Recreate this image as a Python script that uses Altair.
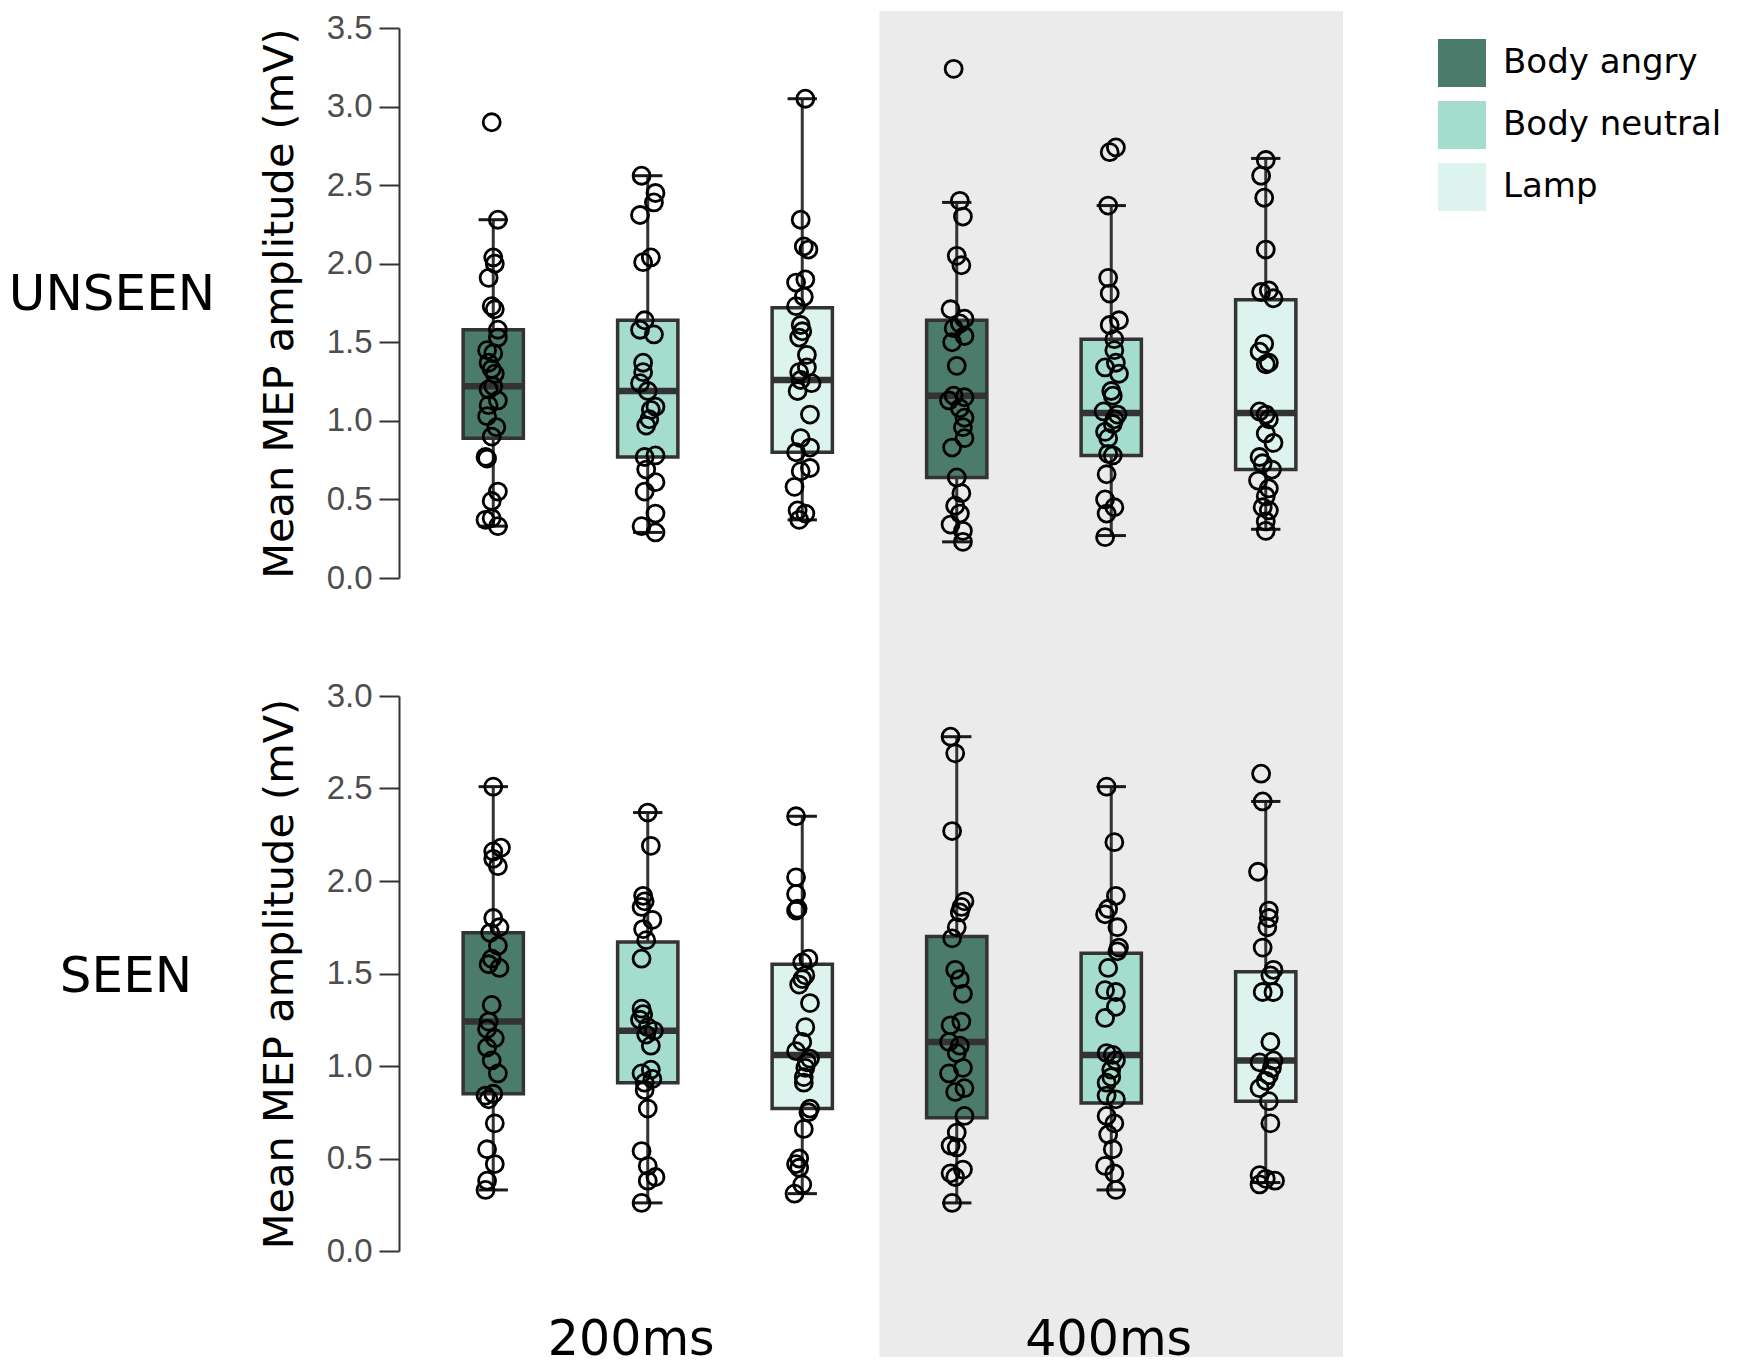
import altair as alt
import pandas as pd

# ---------------- data ----------------
conditions = ["Body angry", "Body neutral", "Lamp"]
times = ["200ms", "400ms"]
panels = ["UNSEEN", "SEEN"]
colors = ["#4b7b6b", "#a4ddce", "#ddf3ee"]

# groups ordered: 200ms (angry, neutral, lamp), 400ms (angry, neutral, lamp)
unseen_q1 = [0.89, 0.77, 0.80, 0.64, 0.78, 0.69]
unseen_med = [1.22, 1.19, 1.26, 1.16, 1.05, 1.05]
unseen_q3 = [1.58, 1.64, 1.72, 1.64, 1.52, 1.77]
unseen_wlo = [0.33, 0.29, 0.37, 0.23, 0.27, 0.31]
unseen_whi = [2.28, 2.56, 3.05, 2.39, 2.37, 2.67]

seen_q1 = [0.85, 0.91, 0.77, 0.72, 0.80, 0.81]
seen_med = [1.24, 1.19, 1.06, 1.13, 1.06, 1.03]
seen_q3 = [1.72, 1.67, 1.55, 1.70, 1.61, 1.51]
seen_wlo = [0.33, 0.26, 0.31, 0.26, 0.33, 0.37]
seen_whi = [2.51, 2.37, 2.35, 2.78, 2.51, 2.43]

# individual participants (values) and their horizontal jitter (fraction of slot)
u_200_angry = [2.90, 2.28, 2.04, 2.00, 1.91, 1.73, 1.71, 1.58, 1.53, 1.45, 1.43, 1.37, 1.33, 1.30,
               1.22, 1.20, 1.13, 1.10, 1.03, 0.96, 0.90, 0.77, 0.76, 0.55, 0.49, 0.38, 0.37, 0.33]
u_200_angry_j = [-0.01, 0.03, 0.00, 0.01, -0.03, -0.01, 0.01, 0.03, 0.03, -0.04, 0.00, -0.03, -0.01, 0.01,
                 0.00, -0.03, 0.03, -0.03, -0.04, 0.02, -0.01, -0.05, -0.04, 0.03, -0.01, -0.01, -0.05, 0.03]
u_200_neutral = [2.56, 2.45, 2.39, 2.31, 2.04, 2.01, 1.64, 1.58, 1.55, 1.37, 1.31, 1.24, 1.19, 1.09,
                 1.07, 1.01, 0.97, 0.78, 0.77, 0.69, 0.61, 0.55, 0.41, 0.33, 0.29]
u_200_neutral_j = [-0.04, 0.05, 0.04, -0.05, 0.02, -0.03, -0.02, -0.05, 0.04, -0.03, -0.03, -0.05, 0.00, 0.05,
                   0.02, 0.01, -0.01, 0.05, -0.02, -0.01, 0.05, -0.02, 0.05, -0.04, 0.05]
u_200_lamp = [3.05, 2.28, 2.11, 2.09, 1.90, 1.88, 1.79, 1.73, 1.61, 1.57, 1.53, 1.42, 1.34, 1.31,
              1.26, 1.24, 1.19, 1.04, 0.89, 0.83, 0.80, 0.70, 0.68, 0.58, 0.43, 0.41, 0.37]
u_200_lamp_j = [0.02, -0.01, 0.01, 0.04, 0.02, -0.04, 0.01, -0.04, -0.01, 0.00, -0.02, 0.03, 0.03, -0.02,
                -0.01, 0.06, -0.03, 0.05, -0.01, 0.05, -0.04, 0.05, -0.01, -0.05, -0.03, 0.02, -0.02]
u_400_angry = [3.24, 2.40, 2.30, 2.05, 1.99, 1.71, 1.65, 1.62, 1.59, 1.54, 1.50, 1.35, 1.16, 1.15,
               1.13, 1.08, 1.02, 0.96, 0.89, 0.83, 0.64, 0.54, 0.46, 0.41, 0.34, 0.30, 0.23]
u_400_angry_j = [-0.02, 0.02, 0.04, 0.00, 0.03, -0.04, 0.05, 0.02, -0.02, 0.05, -0.03, 0.00, -0.02, 0.05,
                 -0.05, 0.02, 0.05, 0.04, 0.05, -0.03, 0.00, 0.03, -0.01, 0.02, -0.04, 0.04, 0.04]
u_400_neutral = [2.74, 2.71, 2.37, 1.91, 1.81, 1.64, 1.61, 1.52, 1.45, 1.37, 1.34, 1.30, 1.19, 1.16,
                 1.06, 1.04, 1.01, 0.98, 0.93, 0.89, 0.79, 0.78, 0.66, 0.50, 0.45, 0.41, 0.26]
u_400_neutral_j = [0.03, -0.01, -0.02, -0.02, -0.01, 0.05, -0.01, 0.02, 0.02, 0.03, -0.04, 0.05, 0.00, 0.01,
                   -0.05, 0.04, 0.02, 0.01, -0.04, -0.02, -0.02, 0.01, -0.03, -0.04, 0.02, -0.03, -0.04]
u_400_lamp = [2.66, 2.56, 2.42, 2.09, 1.83, 1.82, 1.78, 1.49, 1.44, 1.37, 1.36, 1.06, 1.04, 1.01,
              0.92, 0.86, 0.77, 0.73, 0.69, 0.62, 0.57, 0.52, 0.45, 0.43, 0.36, 0.30]
u_400_lamp_j = [0.00, -0.03, -0.01, 0.00, 0.02, -0.03, 0.05, -0.01, -0.04, 0.02, 0.00, -0.04, 0.00, 0.02,
                0.00, 0.05, -0.04, -0.02, 0.04, -0.05, 0.02, 0.00, -0.02, 0.02, 0.00, 0.00]

s_200_angry = [2.51, 2.18, 2.16, 2.12, 2.08, 1.80, 1.75, 1.72, 1.65, 1.58, 1.55, 1.53, 1.33, 1.24,
               1.20, 1.15, 1.10, 1.03, 0.96, 0.85, 0.84, 0.82, 0.69, 0.55, 0.47, 0.38, 0.33]
s_200_angry_j = [0.00, 0.05, 0.00, 0.00, 0.03, 0.00, 0.04, -0.02, 0.03, -0.01, -0.03, 0.04, -0.01, -0.03,
                 -0.04, 0.01, -0.04, -0.01, 0.03, 0.00, -0.05, -0.03, 0.01, -0.04, 0.01, -0.04, -0.05]
s_200_neutral = [2.37, 2.19, 1.92, 1.89, 1.86, 1.79, 1.74, 1.68, 1.58, 1.31, 1.28, 1.25, 1.21, 1.19,
                 1.17, 1.11, 0.98, 0.96, 0.93, 0.91, 0.87, 0.77, 0.54, 0.46, 0.40, 0.38, 0.26]
s_200_neutral_j = [0.00, 0.02, -0.03, -0.02, -0.04, 0.03, -0.03, -0.01, -0.04, -0.04, -0.03, -0.05, 0.00, 0.04,
                   -0.01, 0.02, 0.02, -0.04, 0.03, -0.02, -0.02, 0.00, -0.04, 0.00, 0.05, 0.00, -0.04]
s_200_lamp = [2.35, 2.02, 1.93, 1.85, 1.84, 1.58, 1.56, 1.49, 1.47, 1.44, 1.34, 1.21, 1.13, 1.08,
              1.04, 1.02, 0.99, 0.94, 0.91, 0.77, 0.75, 0.66, 0.50, 0.47, 0.45, 0.36, 0.31]
s_200_lamp_j = [-0.04, -0.04, -0.04, -0.03, -0.04, 0.04, 0.00, 0.02, 0.00, -0.02, 0.05, 0.02, 0.00, -0.04,
                0.05, 0.03, 0.02, 0.01, 0.01, 0.05, 0.04, 0.01, -0.02, -0.04, -0.02, 0.00, -0.05]
s_400_angry = [2.78, 2.69, 2.27, 1.89, 1.86, 1.83, 1.75, 1.69, 1.52, 1.47, 1.39, 1.24, 1.22, 1.13,
               1.11, 1.07, 0.99, 0.96, 0.88, 0.86, 0.73, 0.64, 0.57, 0.56, 0.44, 0.42, 0.40, 0.26]
s_400_angry_j = [-0.04, -0.01, -0.03, 0.05, 0.03, 0.02, 0.00, -0.03, -0.01, 0.02, 0.04, 0.03, -0.04, -0.05,
                 0.02, 0.00, 0.04, -0.05, 0.05, -0.01, 0.05, 0.00, -0.04, 0.00, 0.04, -0.04, -0.01, -0.03]
s_400_neutral = [2.51, 2.21, 1.92, 1.85, 1.82, 1.75, 1.64, 1.62, 1.53, 1.41, 1.40, 1.32, 1.26, 1.07,
                 1.06, 1.03, 0.98, 0.94, 0.91, 0.84, 0.82, 0.73, 0.69, 0.63, 0.55, 0.46, 0.42, 0.33]
s_400_neutral_j = [-0.03, 0.02, 0.03, -0.02, -0.04, 0.04, 0.05, 0.04, -0.02, -0.04, 0.03, 0.03, -0.04, -0.03,
                   0.01, 0.03, 0.00, 0.00, -0.03, -0.03, 0.03, -0.03, 0.02, -0.02, 0.01, -0.04, 0.02, 0.03]
s_400_lamp = [2.58, 2.43, 2.05, 1.84, 1.80, 1.75, 1.64, 1.52, 1.49, 1.40, 1.40, 1.13, 1.02, 1.03,
              0.99, 0.95, 0.92, 0.88, 0.81, 0.69, 0.41, 0.39, 0.38, 0.36]
s_400_lamp_j = [-0.03, -0.02, -0.05, 0.02, 0.02, 0.01, -0.02, 0.05, 0.03, -0.02, 0.05, 0.03, -0.04, 0.05,
                0.04, 0.02, 0.00, -0.04, 0.02, 0.03, -0.04, 0.00, 0.06, -0.04]

unseen_points = [u_200_angry, u_200_neutral, u_200_lamp, u_400_angry, u_400_neutral, u_400_lamp]
unseen_jitter = [u_200_angry_j, u_200_neutral_j, u_200_lamp_j, u_400_angry_j, u_400_neutral_j, u_400_lamp_j]
seen_points = [s_200_angry, s_200_neutral, s_200_lamp, s_400_angry, s_400_neutral, s_400_lamp]
seen_jitter = [s_200_angry_j, s_200_neutral_j, s_200_lamp_j, s_400_angry_j, s_400_neutral_j, s_400_lamp_j]

# ---------------- styling ----------------
FONT = "DejaVu Sans"
TICK_FONT = "Liberation Sans"
DARK = "#333333"
BAND = "#ebebeb"
W = 927
Y_TITLE = "Mean MEP amplitude (mV)"


def frames(q1, med, q3, wlo, whi, pts, jits):
    boxes, points = [], []
    for t_i, t in enumerate(times):
        for c_i, c in enumerate(conditions):
            g = t_i * 3 + c_i
            boxes.append({"pos": g, "cond": c, "time": t, "q1": q1[g], "med": med[g],
                          "q3": q3[g], "wlo": wlo[g], "whi": whi[g]})
            for v, j in zip(pts[g], jits[g]):
                points.append({"slot": g, "jit": j, "val": v, "cond": c})
    return pd.DataFrame(boxes), pd.DataFrame(points)


def make_panel(name, q1, med, q3, wlo, whi, pts, jits, y_max, height,
               band_top, band_bottom, show_x, title_offset, title_dy):
    box_df, pt_df = frames(q1, med, q3, wlo, whi, pts, jits)
    band_df = pd.DataFrame({"time": times, "t_index": list(range(len(times)))})

    xs = alt.Scale(domain=[-0.5, 5.5], nice=False, zero=False)
    ys = alt.Scale(domain=[0, y_max], nice=False, zero=True)
    if show_x:
        x_axis = alt.Axis(values=[t_i * 3 + 1 for t_i in range(len(times))],
                          labelExpr=f"datum.value < 2.5 ? '{times[0]}' : '{times[1]}'",
                          title=None, domain=False, ticks=False, tickSize=0, grid=False,
                          labelFont=FONT, labelFontSize=49, labelColor="black",
                          labelPadding=64,
                          labelOffset={"condition": {"test": "datum.value < 2.5", "value": -17},
                                       "value": -3},
                          labelBaseline="top",
                          labelOverlap=False, labelFlush=False, zindex=2)
    else:
        x_axis = None
    tick_vals = [i * 0.5 for i in range(int(y_max * 2) + 1)]
    y_axis = alt.Axis(values=tick_vals, format=".1f", title=Y_TITLE, grid=False,
                      labelFont=TICK_FONT, labelFontSize=33, labelColor="#4d4d4d",
                      labelPadding=7, tickSize=20, tickColor=DARK, tickWidth=2,
                      domainColor=DARK, domainWidth=2, offset=17,
                      titleFont=FONT, titleFontSize=41.5, titleFontWeight="normal",
                      titleColor="black", titlePadding=25)

    band = alt.Chart(band_df).transform_filter(
        alt.datum.t_index == 1
    ).transform_calculate(
        b0="datum.t_index * 3 - 0.5", b1="datum.t_index * 3 + 2.5"
    ).mark_rect(color=BAND).encode(
        x=alt.X("b0:Q", scale=xs, axis=x_axis),
        x2="b1:Q",
        y=alt.value(-band_top),
        y2=alt.value(height + band_bottom),
    )

    base = alt.Chart(box_df).transform_calculate(
        lo="datum.pos - 0.195", hi="datum.pos + 0.195",
        clo="datum.pos - 0.095", chi="datum.pos + 0.095",
    )
    whisker = base.mark_rule(color=DARK, strokeWidth=3).encode(
        x=alt.X("pos:Q", scale=xs, axis=x_axis),
        y=alt.Y("wlo:Q", scale=ys, axis=y_axis),
        y2="whi:Q",
    )
    cap_hi = base.mark_rule(color="#1a1a1a", strokeWidth=3).encode(
        x=alt.X("clo:Q", scale=xs, axis=x_axis), x2="chi:Q",
        y=alt.Y("whi:Q", scale=ys, axis=y_axis),
    )
    cap_lo = base.mark_rule(color="#1a1a1a", strokeWidth=3).encode(
        x=alt.X("clo:Q", scale=xs, axis=x_axis), x2="chi:Q",
        y=alt.Y("wlo:Q", scale=ys, axis=y_axis),
    )
    box = base.mark_rect(stroke=DARK, strokeWidth=3.5).encode(
        x=alt.X("lo:Q", scale=xs, axis=x_axis), x2="hi:Q",
        y=alt.Y("q1:Q", scale=ys, axis=y_axis), y2="q3:Q",
        color=alt.Color("cond:N", scale=alt.Scale(domain=conditions, range=colors),
                        legend=alt.Legend(title=None, orient="none", legendX=1022, legendY=11,
                                          symbolType="square", symbolSize=2304,
                                          symbolStrokeWidth=0, symbolOpacity=1,
                                          labelFont=FONT, labelFontSize=34, labelColor="black",
                                          labelLimit=400, labelOffset=17, rowPadding=14,
                                          padding=0)),
    )
    median = base.mark_rule(color=DARK, strokeWidth=6.5).encode(
        x=alt.X("lo:Q", scale=xs, axis=x_axis), x2="hi:Q",
        y=alt.Y("med:Q", scale=ys, axis=y_axis),
    )
    points = alt.Chart(pt_df).transform_calculate(
        xp="datum.slot + datum.jit"
    ).mark_point(shape="circle", filled=False, color="black", strokeWidth=2.8,
                 size=290, opacity=1).encode(
        x=alt.X("xp:Q", scale=xs, axis=x_axis),
        y=alt.Y("val:Q", scale=ys, axis=y_axis),
    )

    return alt.layer(band, whisker, cap_hi, cap_lo, box, median, points).properties(
        width=W, height=height,
        title=alt.TitleParams(text=name, orient="left", angle=0, align="left",
                              baseline="middle", anchor="middle", frame="group",
                              font=FONT, fontSize=50, fontWeight="normal",
                              color="black", offset=title_offset, dy=title_dy),
    )


top = make_panel(panels[0], unseen_q1, unseen_med, unseen_q3, unseen_wlo, unseen_whi,
                 unseen_points, unseen_jitter, 3.5, 550, 17, 59, False, 44, -8)
bottom = make_panel(panels[1], seen_q1, seen_med, seen_q3, seen_wlo, seen_whi,
                    seen_points, seen_jitter, 3.0, 555, 59, 106, True, 67, 3)

chart = alt.vconcat(top, bottom, spacing=0).resolve_scale(
    x="independent", y="independent", color="shared"
).properties(padding={"top": 3, "bottom": 4, "left": 0, "right": 0}).configure_view(stroke=None)

chart.save("out.html", embed_options={"renderer": "svg", "actions": False})
